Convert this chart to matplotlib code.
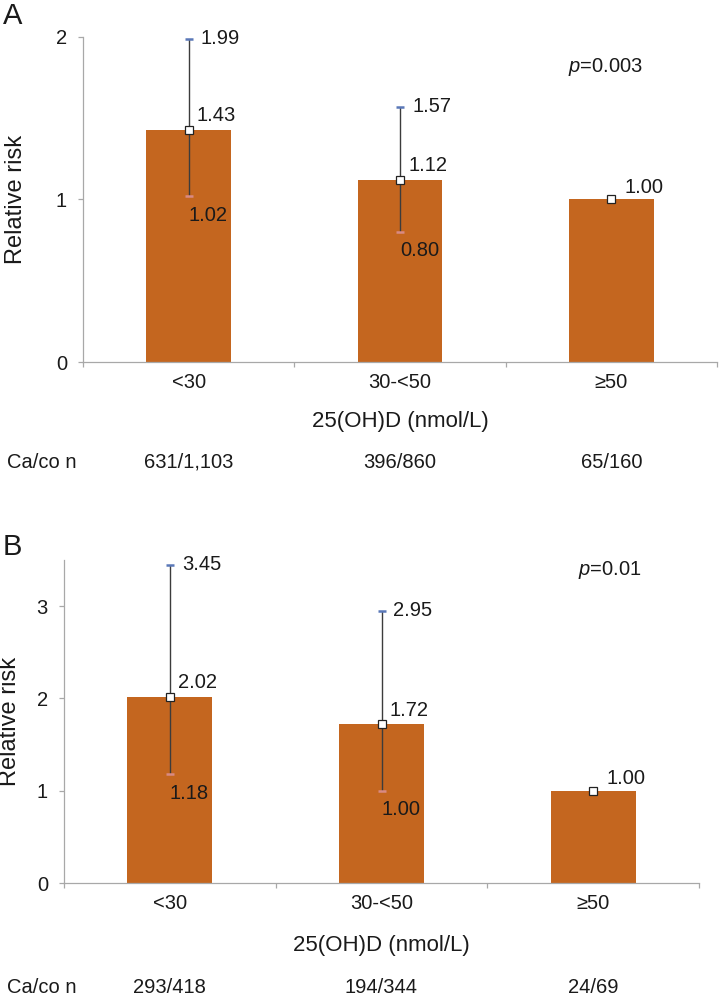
"""Relative risk by 25(OH)D category, two panels (A, B) with CI whiskers."""

import matplotlib
matplotlib.use("Agg")
import matplotlib.pyplot as plt

plt.rcParams["font.family"] = ["Liberation Sans", "DejaVu Sans"]
plt.rcParams["mathtext.fontset"] = "custom"
plt.rcParams["mathtext.it"] = "Liberation Sans:italic"
plt.rcParams["mathtext.rm"] = "Liberation Sans"

# ---------------------------------------------------------------------------
# Data
# ---------------------------------------------------------------------------
categories = ["<30", "30-<50", "≥50"]

rr_a = [1.43, 1.12, 1.00]
lo_a = [1.02, 0.80, None]
hi_a = [1.99, 1.57, None]
counts_a = ["631/1,103", "396/860", "65/160"]
p_a = "0.003"

rr_b = [2.02, 1.72, 1.00]
lo_b = [1.18, 1.00, None]
hi_b = [3.45, 2.95, None]
counts_b = ["293/418", "194/344", "24/69"]
p_b = "0.01"

# ---------------------------------------------------------------------------
# Style
# ---------------------------------------------------------------------------
BAR = "#c4661f"
AXIS = "#a8a8a8"
TEXT = "#1a1a1a"
WHISKER = "#3c3c3c"
CAP_HI = "#5a78b8"
CAP_LO = "#d98a84"
PX = 0.72          # points per pixel at dpi=100
FS = 14.5

W, H = 720, 997


def draw_panel(ax, rr, lo, hi, counts, ymax, yticks, row_px, ylab_x, xlab_y):
    x = list(range(len(categories)))
    ax.bar(x, rr, width=0.40, color=BAR, zorder=2)

    for i in x:
        if lo[i] is not None:
            ax.vlines(i, lo[i], hi[i], color=WHISKER, lw=1.0, zorder=3)
            ax.plot(i, hi[i], marker="_", ms=6, mew=1.8, color=CAP_HI, zorder=4)
            ax.plot(i, lo[i], marker="_", ms=6, mew=1.8, color=CAP_LO, zorder=4)
            ax.annotate(f"{hi[i]:.2f}", (i, hi[i]), xytext=(12 * PX, 0),
                        textcoords="offset points", ha="left", va="center",
                        fontsize=FS, color=TEXT)
            ax.annotate(f"{lo[i]:.2f}", (i, lo[i]), xytext=(0, -19 * PX),
                        textcoords="offset points", ha="left", va="center",
                        fontsize=FS, color=TEXT)
            ax.annotate(f"{rr[i]:.2f}", (i, rr[i]), xytext=(8 * PX, 14 * PX),
                        textcoords="offset points", ha="left", va="center",
                        fontsize=FS, color=TEXT)
        else:
            ax.annotate(f"{rr[i]:.2f}", (i, rr[i]), xytext=(13 * PX, 12 * PX),
                        textcoords="offset points", ha="left", va="center",
                        fontsize=FS, color=TEXT)
        ax.plot(i, rr[i], "s", ms=5.5, mfc="white", mec="#222222", mew=0.9,
                zorder=5)

    # axes
    ax.set_xlim(-0.5, len(categories) - 0.5)
    ax.set_ylim(0, ymax)
    for side in ("top", "right"):
        ax.spines[side].set_visible(False)
    for side in ("left", "bottom"):
        ax.spines[side].set_color(AXIS)
        ax.spines[side].set_linewidth(0.9)

    ax.set_xticks([k - 0.5 for k in range(len(categories) + 1)])
    ax.set_xticklabels([])
    ax.set_xticks(x, minor=True)
    ax.set_xticklabels(categories, minor=True)
    ax.tick_params(axis="x", which="major", length=5 * PX, color=AXIS, width=0.9)
    ax.tick_params(axis="x", which="minor", length=0, pad=8,
                   labelsize=FS, labelcolor=TEXT)

    ax.set_yticks(yticks)
    ax.set_yticklabels([str(t) for t in yticks])
    ax.tick_params(axis="y", length=5 * PX, color=AXIS, width=0.9, pad=8,
                   labelsize=FS, labelcolor=TEXT)

    ax.set_ylabel("Relative risk", fontsize=17, color=TEXT)
    ax.yaxis.set_label_coords(ylab_x, 0.5)
    ax.set_xlabel("25(OH)D (nmol/L)", fontsize=16, color=TEXT)
    ax.xaxis.set_label_coords(0.5, xlab_y)

    # case/control counts row
    ax.annotate("Ca/co n", (7 / W, 0), xycoords=("figure fraction", "axes fraction"),
                xytext=(0, -row_px * PX), textcoords="offset points",
                ha="left", va="center", fontsize=FS, color=TEXT)
    for i, c in zip(x, counts):
        ax.annotate(c, (i, 0), xycoords=("data", "axes fraction"),
                    xytext=(0, -row_px * PX), textcoords="offset points",
                    ha="center", va="center", fontsize=FS, color=TEXT)


fig = plt.figure(figsize=(W / 100, H / 100), dpi=100)
fig.patch.set_facecolor("white")

# Panel A: axis box x 83..717 px, y 37..362 px
ax_a = fig.add_axes([83 / W, 1 - 362 / H, (717 - 83) / W, (362 - 37) / H])
draw_panel(ax_a, rr_a, lo_a, hi_a, counts_a, 2, [0, 1, 2],
           row_px=100, ylab_x=-0.088, xlab_y=-0.15)

# Panel B: axis box x 64..699 px, y 560..883 px
ax_b = fig.add_axes([64 / W, 1 - 883 / H, (699 - 64) / W, (883 - 560) / H])
draw_panel(ax_b, rr_b, lo_b, hi_b, counts_b, 3.5, [0, 1, 2, 3],
           row_px=104, ylab_x=-0.068, xlab_y=-0.16)

fig.text(3 / W, 1 - 16 / H, "A", fontsize=21, ha="left", va="center", color=TEXT)
fig.text(3 / W, 1 - 547 / H, "B", fontsize=21, ha="left", va="center", color=TEXT)

fig.text(605 / W, 1 - 67 / H, f"$p$={p_a}", fontsize=FS, ha="center",
         va="center", color=TEXT)
fig.text(610 / W, 1 - 570 / H, f"$p$={p_b}", fontsize=FS, ha="center",
         va="center", color=TEXT)

fig.savefig("out.png", dpi=100, facecolor="white")
plt.close(fig)
